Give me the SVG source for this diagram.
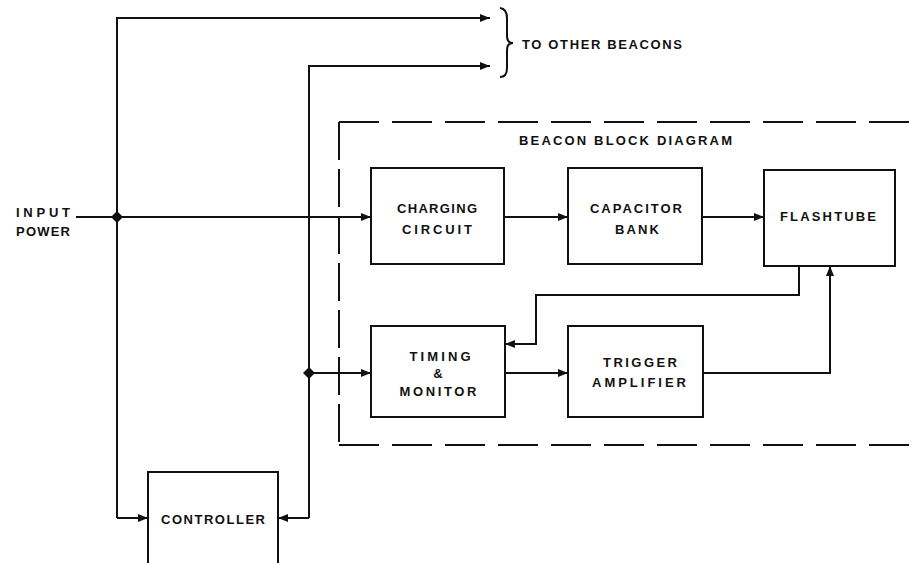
<svg xmlns="http://www.w3.org/2000/svg" width="915" height="563" viewBox="0 0 915 563">
<style>
  .box { fill: #ffffff; stroke: #111111; stroke-width: 2; }
  .line { fill: none; stroke: #111111; stroke-width: 2; }
  .dash { fill: none; stroke: #111111; stroke-width: 2; stroke-dasharray: 40 13; }
  .lbl { font-family: "Liberation Sans", Arial, sans-serif; font-weight: bold; font-size: 13px; fill: #111111; text-anchor: middle; }
  .note { font-family: "Liberation Sans", Arial, sans-serif; font-weight: bold; font-size: 13px; fill: #111111; text-anchor: start; }
</style>
<defs>
  <marker id="arr" viewBox="0 0 10 8" refX="10" refY="4" markerWidth="10" markerHeight="8" markerUnits="userSpaceOnUse" orient="auto">
    <path d="M0,0 L10,4 L0,8 Z" fill="#111111"/>
  </marker>
</defs>
<rect x="0" y="0" width="915" height="563" fill="#ffffff"/>

<g id="beacon-frame">
  <path class="dash" d="M339,122 L915,122"/>
  <path class="dash" d="M339,122 L339,445" style="stroke-dasharray: 38 9"/>
  <path class="dash" d="M339,445 L915,445"/>
  <text class="note" x="519" y="145" textLength="213" lengthAdjust="spacing">BEACON BLOCK DIAGRAM</text>
</g>

<g id="connectors">
  <!-- input power bus -->
  <path class="line" d="M76,217 L371,217" marker-end="url(#arr)"/>
  <!-- left vertical trunk: to other beacons and controller -->
  <path class="line" d="M117,518 L117,18 L490,18" marker-end="url(#arr)"/>
  <path class="line" d="M117,518 L148,518" marker-end="url(#arr)"/>
  <!-- controller output trunk -->
  <path class="line" d="M309,518 L309,66 L490,66" marker-end="url(#arr)"/>
  <path class="line" d="M309,518 L278,518" marker-end="url(#arr)"/>
  <path class="line" d="M309,373 L371,373" marker-end="url(#arr)"/>
  <!-- charging -> capacitor -> flashtube -->
  <path class="line" d="M504,217 L568,217" marker-end="url(#arr)"/>
  <path class="line" d="M702,217 L764,217" marker-end="url(#arr)"/>
  <!-- flashtube feedback to timing -->
  <path class="line" d="M799,266 L799,295 L536,295 L536,344 L505,344" marker-end="url(#arr)"/>
  <!-- timing -> trigger -->
  <path class="line" d="M505,373 L568,373" marker-end="url(#arr)"/>
  <!-- trigger -> flashtube -->
  <path class="line" d="M703,373 L830,373 L830,266" marker-end="url(#arr)"/>
  <!-- junction dots -->
  <path d="M117,211 L123,217 L117,223 L111,217 Z" fill="#111111"/>
  <path d="M309,367 L315,373 L309,379 L303,373 Z" fill="#111111"/>
</g>

<g id="input-power">
  <text class="lbl" x="43" y="217" textLength="54" lengthAdjust="spacing">INPUT</text>
  <text class="lbl" x="43" y="236" textLength="54" lengthAdjust="spacing">POWER</text>
</g>

<g id="other-beacons">
  <path class="line" d="M500,8 Q507,9 507,18 L507,36 Q507,43 513,43 Q507,43 507,50 L507,68 Q507,77 500,77"/>
  <text class="note" x="522" y="49" textLength="160" lengthAdjust="spacing">TO OTHER BEACONS</text>
</g>

<g id="charging-circuit">
  <rect class="box" x="371" y="168" width="133" height="96"/>
  <text class="lbl" x="437" y="213" textLength="80" lengthAdjust="spacing">CHARGING</text>
  <text class="lbl" x="437" y="234" textLength="70" lengthAdjust="spacing">CIRCUIT</text>
</g>

<g id="capacitor-bank">
  <rect class="box" x="568" y="168" width="134" height="96"/>
  <text class="lbl" x="636" y="213" textLength="92" lengthAdjust="spacing">CAPACITOR</text>
  <text class="lbl" x="637" y="234" textLength="44" lengthAdjust="spacing">BANK</text>
</g>

<g id="flashtube">
  <rect class="box" x="764" y="170" width="131" height="96"/>
  <text class="lbl" x="828" y="221" textLength="96" lengthAdjust="spacing">FLASHTUBE</text>
</g>

<g id="timing-monitor">
  <rect class="box" x="371" y="326" width="134" height="91"/>
  <text class="lbl" x="440" y="361" textLength="61" lengthAdjust="spacing">TIMING</text>
  <text class="lbl" x="438" y="378">&amp;</text>
  <text class="lbl" x="438" y="396" textLength="77" lengthAdjust="spacing">MONITOR</text>
</g>

<g id="trigger-amplifier">
  <rect class="box" x="568" y="326" width="135" height="91"/>
  <text class="lbl" x="640" y="367" textLength="74" lengthAdjust="spacing">TRIGGER</text>
  <text class="lbl" x="639" y="387" textLength="94" lengthAdjust="spacing">AMPLIFIER</text>
</g>

<g id="controller">
  <rect class="box" x="148" y="472" width="130" height="100"/>
  <text class="lbl" x="213" y="524" textLength="104" lengthAdjust="spacing">CONTROLLER</text>
</g>
</svg>
